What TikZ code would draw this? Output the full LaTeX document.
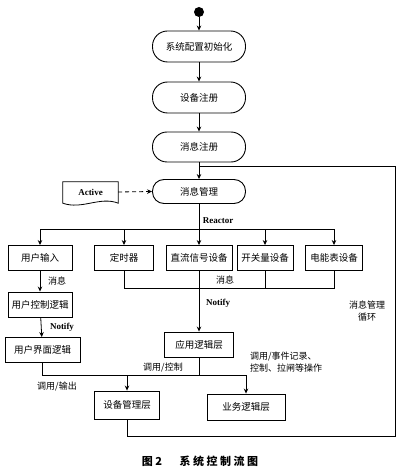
\documentclass[tikz,border=0pt]{standalone}
\usepackage{fontspec}
\setmainfont{Liberation Serif}
\newfontfamily\cjk{Noto Sans CJK SC}
\usetikzlibrary{arrows.meta}
\begin{document}
\begin{tikzpicture}[x=1pt,y=-1pt,
  every node/.style={inner sep=0pt, font=\cjk\fontsize{9.5}{11}\selectfont},
  stadium/.style={draw, line width=0.9pt, minimum width=93pt},
  box/.style={draw, line width=0.9pt, minimum height=25pt},
  conn/.style={line width=0.8pt},
  arr/.style={conn, -{Stealth[length=5pt,width=4.5pt]}},
  lbl/.style={font=\cjk\fontsize{9}{10}\selectfont},
  lat/.style={font=\bfseries\fontsize{9}{10}\selectfont}
]
\useasboundingbox[fill=white] (0,0) rectangle (400,470);

% top chain
\node[circle, fill, minimum size=10pt] (start) at (199,12) {};
\node[stadium, minimum height=31pt, rounded corners=15pt] (init) at (199,46.5) {系统配置初始化};
\node[stadium, minimum height=31pt, rounded corners=15pt] (devreg) at (199,97.5) {设备注册};
\node[stadium, minimum height=30pt, rounded corners=14.5pt] (msgreg) at (199,147) {消息注册};
\node[stadium, minimum height=24pt, rounded corners=11.5pt] (msgmgr) at (199,191.5) {消息管理};

% Active document
\node[lat, minimum width=55pt, minimum height=20pt] (active) at (90.5,192) {Active};
\draw[line width=0.8pt] (active.north west) -- (active.north east) -- ([yshift=-1pt]active.south east)
  .. controls (100,196) and (82,210) .. ([yshift=-1pt]active.south west) -- cycle;

% device row
\node[box, minimum width=64pt] (uin) at (40,258) {用户输入};
\node[box, minimum width=59pt] (timer) at (124,258) {定时器};
\node[box, minimum width=66pt] (dc) at (199,258) {直流信号设备};
\node[box, minimum width=56pt] (sw) at (265,258) {开关量设备};
\node[box, minimum width=57pt] (meter) at (334,258) {电能表设备};

% left column
\node[box, minimum width=64pt] (uctl) at (40,304.5) {用户控制逻辑};
\node[box, minimum width=75pt] (uif) at (42.5,350) {用户界面逻辑};

% middle
\node[box, minimum width=69pt] (app) at (199,344.5) {应用逻辑层};
\node[box, minimum width=65pt, minimum height=28pt] (devmgr) at (127,405) {设备管理层};
\node[box, minimum width=78pt, minimum height=26pt] (biz) at (246,407) {业务逻辑层};

% coordinates
\coordinate (br) at (199,229);
\coordinate (mg) at (199,288);
\coordinate (mg2) at (199,375);
\coordinate (lp1) at (395,436);
\coordinate (lp2) at (395,166);
\coordinate (lp3) at (199,166);

% connectors
\draw[arr] (start) -- (init);
\draw[arr] (init) -- (devreg);
\draw[arr] (devreg) -- (msgreg);
\draw[arr] (msgreg) -- (msgmgr);
\draw[arr, dash pattern=on 4pt off 3pt] (active.east) -- (msgmgr.west);

\draw[conn] (msgmgr.south) -- (br);
\draw[conn] (uin.north |- br) -- (meter.north |- br);
\foreach \n in {uin,timer,dc,sw,meter} \draw[arr] (\n.north |- br) -- (\n.north);

\draw[conn] (timer.south) -- (timer.south |- mg) -- (meter.south |- mg) -- (meter.south);
\draw[conn] (sw.south) -- (sw.south |- mg);
\draw[arr] (dc.south) -- (app.north);

\draw[arr] (uin) -- (uctl);
\draw[arr] (uctl) -- (uif);

\draw[conn] (uif.south) -- (uif.south |- mg2) -- (biz.north |- mg2);
\draw[conn] (app.south) -- (app.south |- mg2);
\draw[arr] (devmgr.north |- mg2) -- (devmgr.north);
\draw[arr] (biz.north |- mg2) -- (biz.north);

\draw[conn] (devmgr.south) -- (devmgr.south |- lp1) -- (lp1) -- (lp2) -- (lp3);

% labels
\node[lat] (lreactor) at (218,221) {Reactor};
\node[lbl] (lmsg1) at (57,281) {消息};
\node[lbl] (lmsg2) at (225,280) {消息};
\node[lat] (lnotify1) at (218,303) {Notify};
\node[lat] (lnotify2) at (62,327) {Notify};
\node[lbl] (lcallout) at (57,387) {调用/输出};
\node[lbl] (lcallctl) at (163,368) {调用/控制};
\node[lbl, align=left] (levent) at (286,362) {调用/事件记录、\\[2pt]控制、拉闸等操作};
\node[lbl, align=center] (lloop) at (367,311) {消息管理\\[2pt]循环};

\node[font=\cjk\bfseries\fontsize{11}{12}\selectfont] (caption) at (200,461) {图 2\hspace{1.6em}系 统 控 制 流 图};
\end{tikzpicture}
\end{document}
